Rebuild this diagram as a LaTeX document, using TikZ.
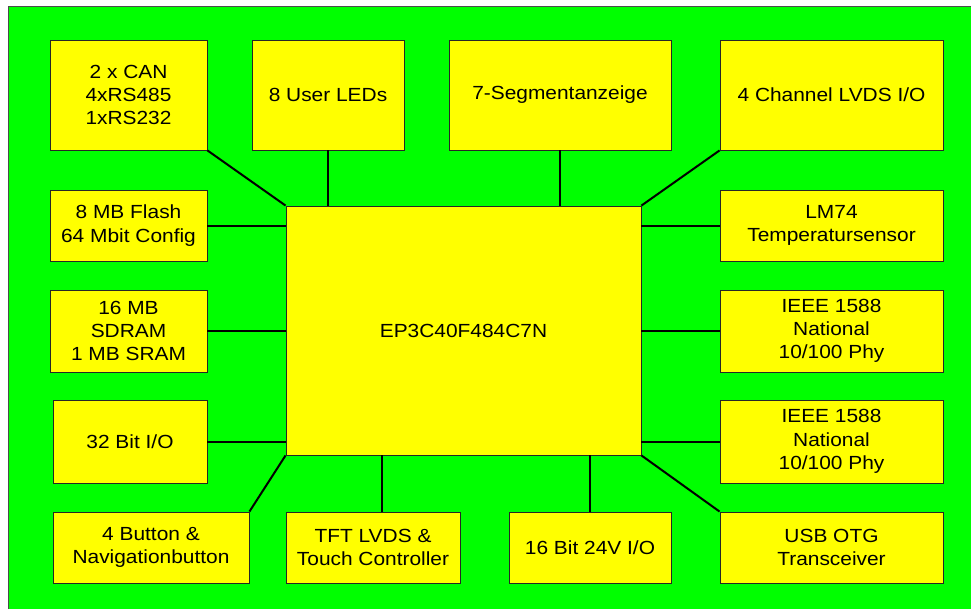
\documentclass[tikz,border=0pt]{standalone}
\usepackage{fontspec}
\setmainfont{Liberation Sans}[FakeStretch=1.1]
\begin{document}
\begin{tikzpicture}[x=1pt,y=-1pt,
  box/.style={draw=black!85, line width=0.9pt, fill=yellow, align=center, inner sep=0pt,
    font=\fontsize{19}{23.3}\selectfont, text=black},
  wire/.style={draw=black, line width=2pt}]
\useasboundingbox (0,0) rectangle (971,608);
\fill[white] (0,0) rectangle (971,608);
\draw[fill={rgb,255:red,0;green,255;blue,0}, draw=black!70, line width=1pt] (8,6) rectangle (980,620);
\tikzset{box/.append style={fill={rgb,255:red,255;green,255;blue,0}}}
% top row
\node[box, minimum width=157pt, minimum height=110pt] (can) at (128.5,95) {2 x CAN\\4xRS485\\1xRS232};
\node[box, minimum width=152pt, minimum height=110pt] (leds) at (328,95) {8 User LEDs};
\node[box, minimum width=222pt, minimum height=110pt] (seg) at (560,95) {7-Segmentanzeige};
\node[box, minimum width=223pt, minimum height=110pt] (lvds) at (831.5,95) {4 Channel LVDS I/O};
% left column
\node[box, minimum width=157pt, minimum height=71pt] (flash) at (128.5,225.5) {8 MB Flash\\64 Mbit Config};
\node[box, minimum width=157pt, minimum height=82pt] (sdram) at (128.5,331) {16 MB\\SDRAM\\1 MB SRAM};
\node[box, minimum width=154pt, minimum height=83pt] (io32) at (130,441.5) {32 Bit I/O};
% bottom row
\node[box, minimum width=196pt, minimum height=71pt] (btn) at (151,547.5) {4 Button \&\\Navigationbutton};
\node[box, minimum width=174pt, minimum height=71pt] (tft) at (373,547.5) {TFT LVDS \&\\Touch Controller};
\node[box, minimum width=162pt, minimum height=71pt] (io16) at (590,547.5) {16 Bit 24V I/O};
\node[box, minimum width=223pt, minimum height=71pt] (usb) at (831.5,547.5) {USB OTG\\Transceiver};
% right column
\node[box, minimum width=223pt, minimum height=71pt] (lm74) at (831.5,225.5) {LM74\\Temperatursensor};
\node[box, minimum width=223pt, minimum height=82pt] (ieee1) at (831.5,331) {IEEE 1588\\National\\10/100 Phy};
\node[box, minimum width=223pt, minimum height=83pt] (ieee2) at (831.5,441.5) {IEEE 1588\\National\\10/100 Phy};
% center
\node[box, minimum width=355pt, minimum height=249pt] (fpga) at (463.5,330.5) {EP3C40F484C7N};
% connectors
\draw[wire] (can.south east) -- (fpga.north west);
\draw[wire] (leds.south) -- (leds.south |- fpga.north);
\draw[wire] (seg.south) -- (seg.south |- fpga.north);
\draw[wire] (lvds.south west) -- (fpga.north east);
\draw[wire] (flash.east) -- (flash.east -| fpga.west);
\draw[wire] (sdram.east) -- (sdram.east -| fpga.west);
\draw[wire] (io32.east) -- (io32.east -| fpga.west);
\draw[wire] (btn.north east) -- (fpga.south west);
\draw[wire] ([xshift=9pt]tft.north) -- ([xshift=9pt]tft.north |- fpga.south);
\draw[wire] (io16.north) -- (io16.north |- fpga.south);
\draw[wire] (usb.north west) -- (fpga.south east);
\draw[wire] (lm74.west) -- (lm74.west -| fpga.east);
\draw[wire] (ieee1.west) -- (ieee1.west -| fpga.east);
\draw[wire] (ieee2.west) -- (ieee2.west -| fpga.east);
\end{tikzpicture}
\end{document}
